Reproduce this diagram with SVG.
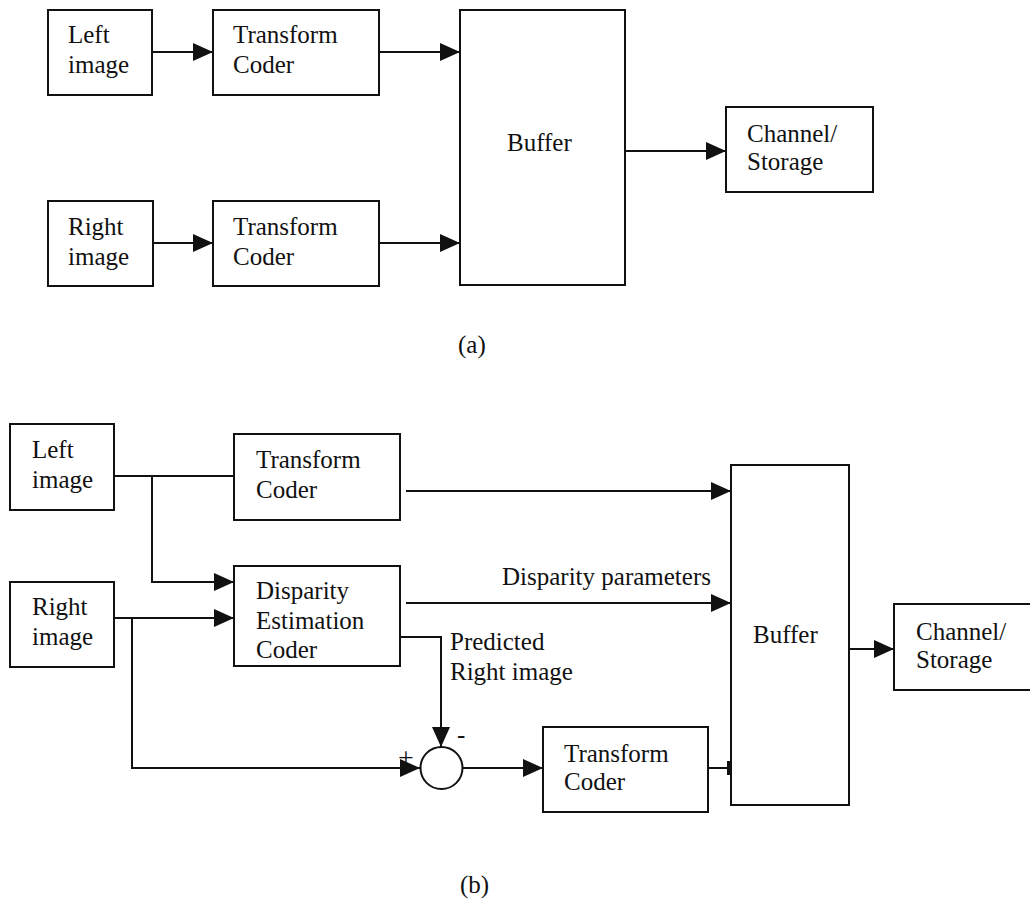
<svg xmlns="http://www.w3.org/2000/svg" width="1030" height="900" viewBox="0 0 1030 900">
<style>
.box{fill:#fff;stroke:#111;stroke-width:2}
.ln{fill:none;stroke:#111;stroke-width:2}
.t{font-family:"Liberation Serif","Times New Roman",serif;font-size:25px;fill:#111}
</style>
<defs>
<marker id="ah" markerUnits="userSpaceOnUse" markerWidth="20" markerHeight="18" refX="20" refY="9" orient="auto">
<path d="M0,0 L20,9 L0,18 z" fill="#111"/>
</marker>
</defs>
<rect width="1030" height="900" fill="#fff"/>
<g id="connectors">
<line class="ln" x1="152" y1="52" x2="213" y2="52" marker-end="url(#ah)"/>
<line class="ln" x1="379" y1="52" x2="460" y2="52" marker-end="url(#ah)"/>
<line class="ln" x1="153" y1="243" x2="213" y2="243" marker-end="url(#ah)"/>
<line class="ln" x1="379" y1="243" x2="460" y2="243" marker-end="url(#ah)"/>
<line class="ln" x1="625" y1="151" x2="726" y2="151" marker-end="url(#ah)"/>
<line class="ln" x1="114" y1="476" x2="234" y2="476"/>
<polyline class="ln" points="152,476 152,582 234,582" marker-end="url(#ah)"/>
<line class="ln" x1="406" y1="491" x2="731" y2="491" marker-end="url(#ah)"/>
<line class="ln" x1="114" y1="618" x2="234" y2="618" marker-end="url(#ah)"/>
<polyline class="ln" points="132,618 132,768 420,768" marker-end="url(#ah)"/>
<line class="ln" x1="406" y1="603" x2="731" y2="603" marker-end="url(#ah)"/>
<polyline class="ln" points="400,637 441,637 441,747" marker-end="url(#ah)"/>
<line class="ln" x1="463" y1="768" x2="543" y2="768" marker-end="url(#ah)"/>
<line class="ln" x1="708" y1="768" x2="731" y2="768"/>
<rect x="727" y="761" width="4" height="14" fill="#111"/>
<line class="ln" x1="849" y1="649" x2="894" y2="649" marker-end="url(#ah)"/>
</g>
<g id="a-left">
<rect class="box" x="48" y="10" width="104" height="85"/>
<text class="t" x="68" y="43">Left</text>
<text class="t" x="68" y="73">image</text>
</g>
<g id="a-tc1">
<rect class="box" x="213" y="10" width="166" height="85"/>
<text class="t" x="233" y="43">Transform</text>
<text class="t" x="233" y="73">Coder</text>
</g>
<g id="a-right">
<rect class="box" x="48" y="201" width="105" height="85"/>
<text class="t" x="68" y="235">Right</text>
<text class="t" x="68" y="265">image</text>
</g>
<g id="a-tc2">
<rect class="box" x="213" y="201" width="166" height="85"/>
<text class="t" x="233" y="235">Transform</text>
<text class="t" x="233" y="265">Coder</text>
</g>
<g id="a-buffer">
<rect class="box" x="460" y="10" width="165" height="275"/>
<text class="t" x="507" y="151">Buffer</text>
</g>
<g id="a-channel">
<rect class="box" x="726" y="107" width="147" height="85"/>
<text class="t" x="747" y="142">Channel/</text>
<text class="t" x="747" y="170">Storage</text>
</g>
<text class="t" x="458" y="353">(a)</text>
<g id="b-left">
<rect class="box" x="10" y="424" width="104" height="86"/>
<text class="t" x="32" y="458">Left</text>
<text class="t" x="32" y="488">image</text>
</g>
<g id="b-tc1">
<rect class="box" x="234" y="434" width="166" height="86"/>
<text class="t" x="256" y="468">Transform</text>
<text class="t" x="256" y="498">Coder</text>
</g>
<g id="b-right">
<rect class="box" x="10" y="582" width="104" height="85"/>
<text class="t" x="32" y="615">Right</text>
<text class="t" x="32" y="645">image</text>
</g>
<g id="b-disparity">
<rect class="box" x="234" y="566" width="166" height="100"/>
<text class="t" x="256" y="599">Disparity</text>
<text class="t" x="256" y="629">Estimation</text>
<text class="t" x="256" y="658">Coder</text>
</g>
<g id="b-sum">
<circle class="box" cx="441.5" cy="768" r="21"/>
<text class="t" x="398" y="767" style="font-size:28px">+</text>
<text class="t" x="457" y="743">-</text>
</g>
<g id="b-tc2">
<rect class="box" x="543" y="727" width="165" height="85"/>
<text class="t" x="564" y="762">Transform</text>
<text class="t" x="564" y="790">Coder</text>
</g>
<g id="b-buffer">
<rect class="box" x="731" y="465" width="118" height="340"/>
<text class="t" x="753" y="643">Buffer</text>
</g>
<g id="b-channel">
<rect class="box" x="894" y="604" width="140" height="86"/>
<text class="t" x="916" y="640">Channel/</text>
<text class="t" x="916" y="668">Storage</text>
</g>
<g id="labels">
<text class="t" x="502" y="585">Disparity parameters</text>
<text class="t" x="450" y="650">Predicted</text>
<text class="t" x="450" y="680">Right image</text>
</g>
<text class="t" x="460" y="893">(b)</text>
</svg>
